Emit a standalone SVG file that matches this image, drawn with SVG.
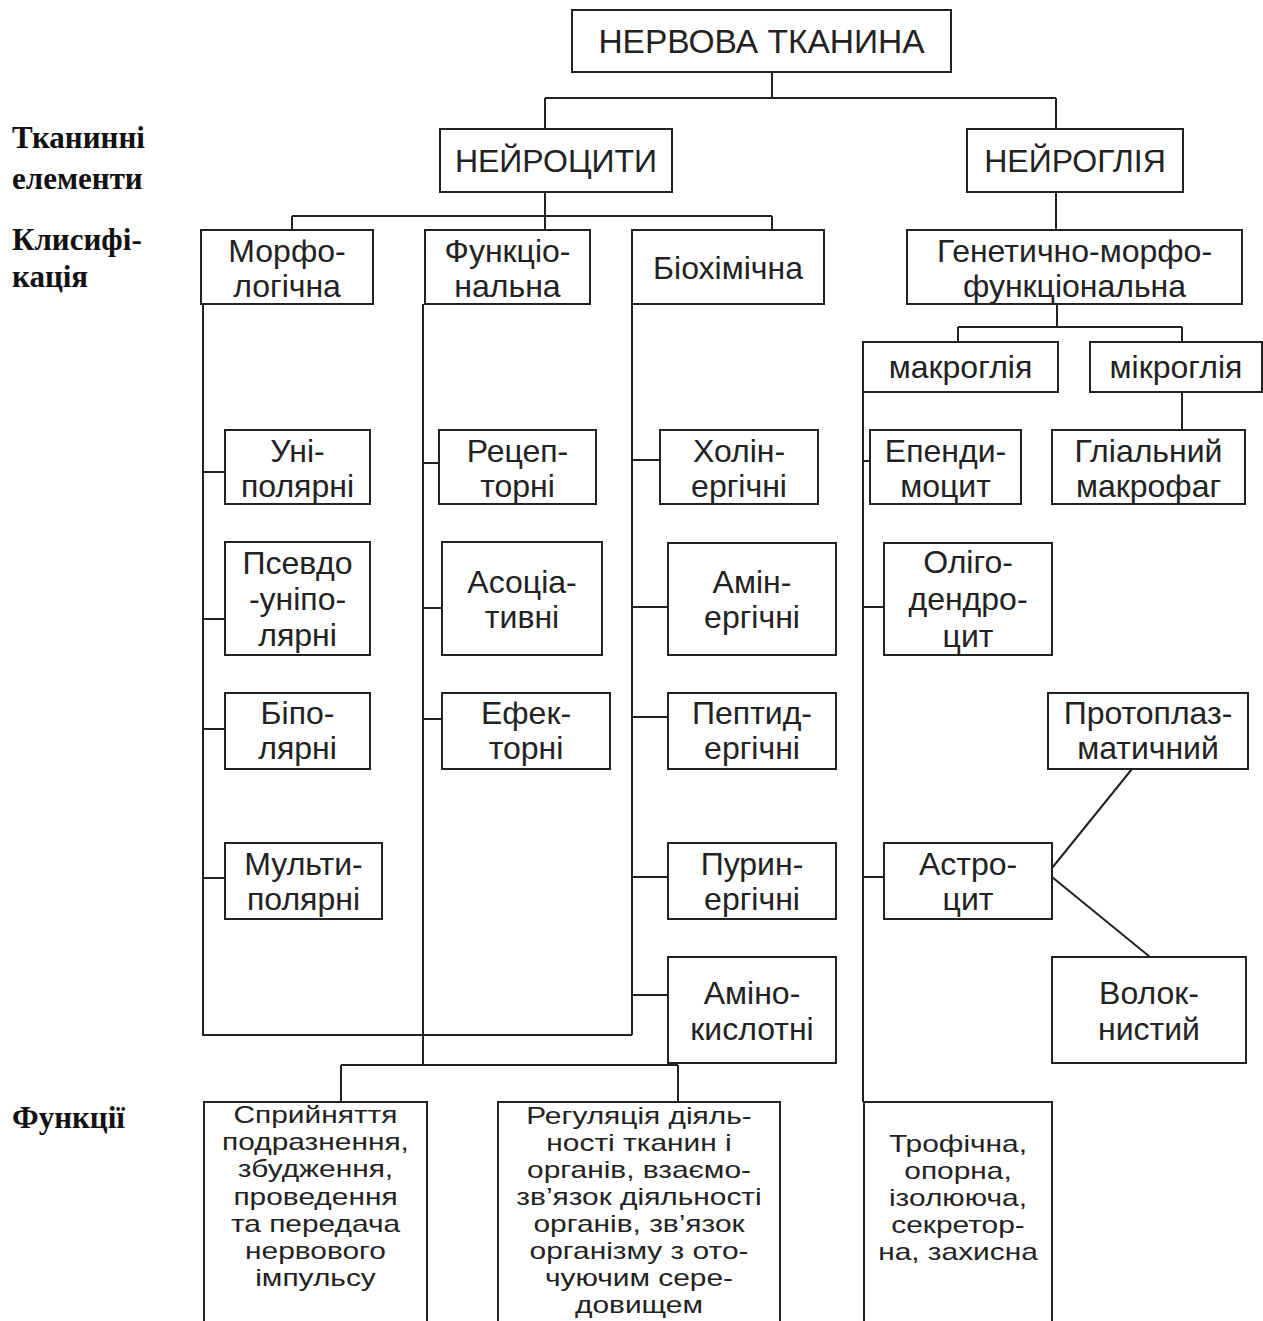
<svg xmlns="http://www.w3.org/2000/svg" width="1263" height="1321" viewBox="0 0 1263 1321">
  <style>
    .box { fill: #fff; stroke: #222; stroke-width: 2; }
    .wire { fill: none; stroke: #222; stroke-width: 2; }
    .lbl { font-family: "Liberation Sans", Arial, sans-serif; font-size: 32px; text-anchor: middle; fill: #222; }
    .title { font-size: 33.5px; }
    .fn { font-family: "Liberation Sans", Arial, sans-serif; font-size: 23px; text-anchor: middle; fill: #222; }
    .side { font-family: "Liberation Serif", "Times New Roman", serif; font-weight: bold; font-size: 31px; fill: #111; }
  </style>
  <rect width="1263" height="1321" fill="#fff"/>

  <!-- row captions on the left -->
  <g id="captions">
    <text class="side" x="12" y="148">Тканинні</text>
    <text class="side" x="12" y="189">елементи</text>
    <text class="side" x="12" y="250">Клисифі-</text>
    <text class="side" x="12" y="287">кація</text>
    <text class="side" x="12" y="1128">Функції</text>
  </g>

  <!-- connectors -->
  <g id="connectors" class="wire">
    <path d="M772,72 V98 M545,98 H1056 M545,98 V129 M1056,98 V129"/>
    <path d="M545,192 V230 M292,216 H772 M292,216 V230 M772,216 V230"/>
    <path d="M1056,192 V230"/>
    <path d="M1057,304 V327 M958,327 H1182 M958,327 V342 M1182,327 V342"/>
    <path d="M1182,392 V430"/>
    <path d="M203,304 V1035 H632 M632,304 V1035"/>
    <path d="M423,304 V1065 M341,1065 H678 M341,1065 V1102 M678,1065 V1102"/>
    <path d="M863,392 V1102"/>
    <path d="M203,472 H225 M203,619 H225 M203,729 H225 M203,878 H225"/>
    <path d="M423,463 H439 M423,608 H442 M423,719 H442"/>
    <path d="M632,460 H660 M632,607 H668 M632,717 H668 M632,877 H668 M632,995 H668"/>
    <path d="M863,461 H870 M863,607 H884 M863,877 H884"/>
    <path d="M1052,868 L1132,769 M1052,877 L1150,957"/>
  </g>

  <!-- hierarchy nodes -->
  <g id="n-root"><rect class="box" x="572" y="10" width="379" height="62"/><text class="lbl title" x="761.5" y="53">НЕРВОВА ТКАНИНА</text></g>
  <g id="n-neurocytes"><rect class="box" x="440" y="129" width="232" height="63"/><text class="lbl" x="556" y="172">НЕЙРОЦИТИ</text></g>
  <g id="n-neuroglia"><rect class="box" x="967" y="129" width="216" height="63"/><text class="lbl" x="1075" y="172">НЕЙРОГЛІЯ</text></g>

  <g id="n-morph"><rect class="box" x="201" y="230" width="172" height="74"/><text class="lbl" x="287" y="262">Морфо-</text><text class="lbl" x="287" y="297">логічна</text></g>
  <g id="n-func"><rect class="box" x="425" y="230" width="165" height="74"/><text class="lbl" x="507.5" y="262">Функціо-</text><text class="lbl" x="507.5" y="297">нальна</text></g>
  <g id="n-biochem"><rect class="box" x="632" y="230" width="192" height="74"/><text class="lbl" x="728" y="279">Біохімічна</text></g>
  <g id="n-genetic"><rect class="box" x="907" y="230" width="335" height="74"/><text class="lbl" x="1074.5" y="262">Генетично-морфо-</text><text class="lbl" x="1074.5" y="297">функціональна</text></g>

  <g id="n-macroglia"><rect class="box" x="863" y="342" width="195" height="50"/><text class="lbl" x="960.5" y="378">макроглія</text></g>
  <g id="n-microglia"><rect class="box" x="1090" y="342" width="172" height="50"/><text class="lbl" x="1176" y="378">мікроглія</text></g>

  <!-- morphological classes -->
  <g id="n-unipolar"><rect class="box" x="225" y="430" width="145" height="74"/><text class="lbl" x="297.5" y="462">Уні-</text><text class="lbl" x="297.5" y="497">полярні</text></g>
  <g id="n-pseudounipolar"><rect class="box" x="225" y="542" width="145" height="113"/><text class="lbl" x="297.5" y="574">Псевдо</text><text class="lbl" x="297.5" y="610">-уніпо-</text><text class="lbl" x="297.5" y="646">лярні</text></g>
  <g id="n-bipolar"><rect class="box" x="225" y="693" width="145" height="76"/><text class="lbl" x="297.5" y="724">Біпо-</text><text class="lbl" x="297.5" y="759">лярні</text></g>
  <g id="n-multipolar"><rect class="box" x="225" y="843" width="157" height="76"/><text class="lbl" x="303.5" y="875">Мульти-</text><text class="lbl" x="303.5" y="910">полярні</text></g>

  <!-- functional classes -->
  <g id="n-receptor"><rect class="box" x="439" y="430" width="157" height="74"/><text class="lbl" x="517.5" y="462">Рецеп-</text><text class="lbl" x="517.5" y="497">торні</text></g>
  <g id="n-associative"><rect class="box" x="442" y="542" width="160" height="113"/><text class="lbl" x="522" y="593">Асоціа-</text><text class="lbl" x="522" y="628">тивні</text></g>
  <g id="n-effector"><rect class="box" x="442" y="693" width="168" height="76"/><text class="lbl" x="526" y="724">Ефек-</text><text class="lbl" x="526" y="759">торні</text></g>

  <!-- biochemical classes -->
  <g id="n-cholinergic"><rect class="box" x="660" y="430" width="158" height="74"/><text class="lbl" x="739" y="462">Холін-</text><text class="lbl" x="739" y="497">ергічні</text></g>
  <g id="n-aminergic"><rect class="box" x="668" y="543" width="168" height="112"/><text class="lbl" x="752" y="593">Амін-</text><text class="lbl" x="752" y="628">ергічні</text></g>
  <g id="n-peptidergic"><rect class="box" x="668" y="693" width="168" height="76"/><text class="lbl" x="752" y="724">Пептид-</text><text class="lbl" x="752" y="759">ергічні</text></g>
  <g id="n-purinergic"><rect class="box" x="668" y="843" width="168" height="76"/><text class="lbl" x="752" y="875">Пурин-</text><text class="lbl" x="752" y="910">ергічні</text></g>
  <g id="n-aminoacid"><rect class="box" x="668" y="957" width="168" height="106"/><text class="lbl" x="752" y="1004">Аміно-</text><text class="lbl" x="752" y="1040">кислотні</text></g>

  <!-- glial cells -->
  <g id="n-ependymocyte"><rect class="box" x="870" y="430" width="151" height="74"/><text class="lbl" x="945.5" y="462">Епенди-</text><text class="lbl" x="945.5" y="497">моцит</text></g>
  <g id="n-glial-macrophage"><rect class="box" x="1052" y="430" width="193" height="74"/><text class="lbl" x="1148.5" y="462">Гліальний</text><text class="lbl" x="1148.5" y="497">макрофаг</text></g>
  <g id="n-oligodendrocyte"><rect class="box" x="884" y="543" width="168" height="112"/><text class="lbl" x="968" y="573">Оліго-</text><text class="lbl" x="968" y="610">дендро-</text><text class="lbl" x="968" y="647">цит</text></g>
  <g id="n-protoplasmic"><rect class="box" x="1048" y="693" width="200" height="76"/><text class="lbl" x="1148" y="724">Протоплаз-</text><text class="lbl" x="1148" y="759">матичний</text></g>
  <g id="n-astrocyte"><rect class="box" x="884" y="843" width="168" height="76"/><text class="lbl" x="968" y="875">Астро-</text><text class="lbl" x="968" y="910">цит</text></g>
  <g id="n-fibrous"><rect class="box" x="1052" y="957" width="194" height="106"/><text class="lbl" x="1149" y="1004">Волок-</text><text class="lbl" x="1149" y="1040">нистий</text></g>

  <!-- function boxes (run off the bottom edge) -->
  <g id="n-func-neuro1">
    <rect class="box" x="204" y="1102" width="223" height="240"/>
    <g transform="translate(315.5 0) scale(1.3 1)">
      <text class="fn" x="0" y="1123">Сприйняття</text>
      <text class="fn" x="0" y="1150">подразнення,</text>
      <text class="fn" x="0" y="1177">збудження,</text>
      <text class="fn" x="0" y="1205">проведення</text>
      <text class="fn" x="0" y="1232">та передача</text>
      <text class="fn" x="0" y="1259">нервового</text>
      <text class="fn" x="0" y="1286">імпульсу</text>
    </g>
  </g>
  <g id="n-func-neuro2">
    <rect class="box" x="498" y="1102" width="282" height="240"/>
    <g transform="translate(639 0) scale(1.3 1)">
      <text class="fn" x="0" y="1124">Регуляція діяль-</text>
      <text class="fn" x="0" y="1151">ності тканин і</text>
      <text class="fn" x="0" y="1178">органів, взаємо-</text>
      <text class="fn" x="0" y="1205">зв’язок діяльності</text>
      <text class="fn" x="0" y="1232">органів, зв’язок</text>
      <text class="fn" x="0" y="1259">організму з ото-</text>
      <text class="fn" x="0" y="1286">чуючим сере-</text>
      <text class="fn" x="0" y="1313">довищем</text>
    </g>
  </g>
  <g id="n-func-glia">
    <rect class="box" x="864" y="1102" width="188" height="240"/>
    <g transform="translate(958 0) scale(1.3 1)">
      <text class="fn" x="0" y="1152">Трофічна,</text>
      <text class="fn" x="0" y="1179">опорна,</text>
      <text class="fn" x="0" y="1206">ізолююча,</text>
      <text class="fn" x="0" y="1233">секретор-</text>
      <text class="fn" x="0" y="1260">на, захисна</text>
    </g>
  </g>
</svg>
